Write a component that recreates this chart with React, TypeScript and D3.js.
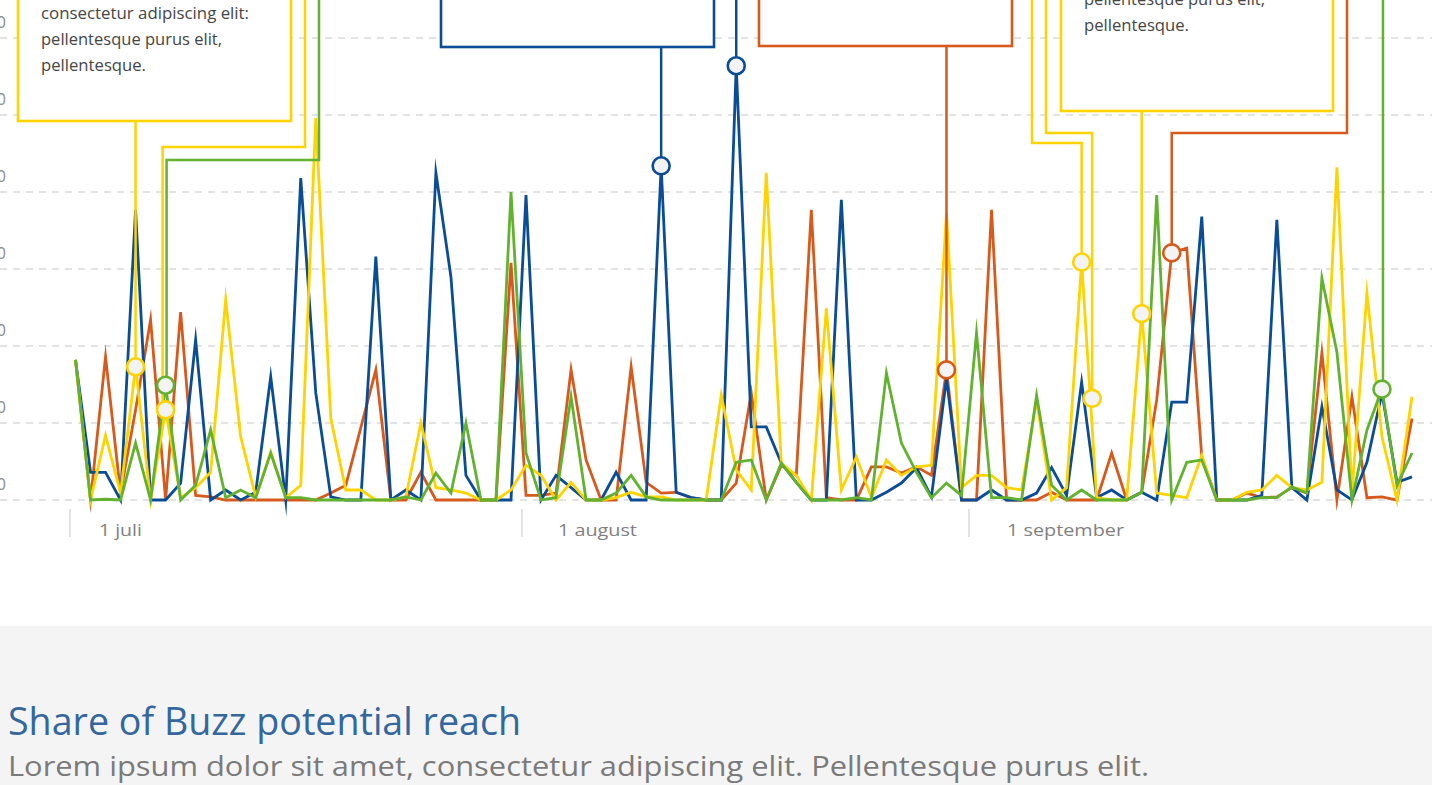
import React, { useEffect, useRef } from "react";
import * as d3 from "d3";

// daily values (one point per day)
const blue = [
  18.2, 3.6, 3.6, 0, 37.7, 0, 0, 2.2, 20.8, 0,
  1.3, 0, 1.0, 16.0, 0, 41.8, 13.9, 0.4, 0, 0,
  31.6, 0, 1.3, 0, 42.5, 29.0, 3.2, 0, 0, 0,
  39.6, 0, 3.2, 1.6, 0, 0, 3.6, 0, 0, 43.4,
  1.0, 0.3, 0, 0, 56.4, 9.5, 9.5, 4.8, 2.3, 0,
  0, 39.0, 0, 0, 1.0, 2.2, 4.2, 0.4, 15.8, 0,
  0, 1.3, 0, 0, 0.9, 4.2, 0.6, 15.3, 0.3, 1.3,
  0, 1.0, 0, 12.7, 12.7, 36.8, 0, 0, 0, 0.6,
  36.4, 1.6, 0, 12.1, 1.3, 0, 4.9, 13.9, 2.3, 3.0,
];
const orange = [
  18.2, 0, 18.6, 0.9, 11.7, 23.4, 0, 24.4, 0.6, 0.4,
  0, 0, 0, 0, 0, 0, 0, 0.9, 1.9, 9.4,
  16.9, 0, 0, 3.6, 0, 0, 0, 0, 0, 30.8,
  0.6, 0.6, 0.9, 16.9, 5.2, 0, 0, 17.3, 2.3, 0.9,
  1.0, 0.3, 0, 0, 2.2, 13.9, 0, 4.5, 3.2, 37.7,
  0.3, 0, 0, 4.3, 4.3, 3.5, 4.3, 3.2, 16.9, 0,
  0, 37.7, 0, 0, 0, 1.0, 0, 0, 0, 6.1,
  0, 1.0, 13.0, 32.1, 32.7, 5.6, 0, 0, 0.9, 0.3,
  0.4, 1.6, 0.9, 19.1, 0, 13.4, 0.3, 0.4, 0, 10.6,
];
const yellow = [
  18.2, 0, 8.4, 0.9, 17.3, 0, 11.7, 0.3, 1.6, 3.6,
  26.0, 8.2, 0.4, 6.2, 0.3, 1.9, 49.6, 10.6, 1.3, 1.3,
  0, 0, 0.4, 10.0, 1.6, 1.3, 0.9, 0, 0, 1.3,
  4.5, 3.2, 0, 2.3, 0, 0, 0.3, 1.0, 0.4, 0.4,
  0, 0, 0, 13.6, 3.9, 1.3, 42.5, 4.8, 3.2, 0,
  24.9, 1.3, 5.6, 0.3, 5.2, 3.2, 4.3, 4.5, 37.3, 1.6,
  3.2, 3.2, 1.6, 1.3, 13.0, 0, 1.6, 30.9, 0.3, 0,
  0, 24.2, 0.9, 0.6, 0.3, 5.8, 0, 0, 1.0, 1.3,
  3.2, 1.6, 1.3, 2.3, 43.2, 0.9, 26.9, 8.2, 0, 13.4,
];
const green = [
  18.2, 0, 0.1, 0, 7.4, 0, 14.9, 0, 1.9, 9.1,
  0.3, 1.3, 0.3, 6.1, 0.3, 0.3, 0, 0, 0, 0,
  0, 0, 0.4, 0, 3.5, 0.9, 10.0, 0, 0, 40.0,
  6.1, 0, 0.3, 13.4, 0, 0, 0.9, 3.2, 0.4, 0,
  0, 0, 0, 0, 4.9, 5.2, 0, 4.8, 2.3, 0,
  0, 0, 0.3, 0, 16.5, 7.4, 3.6, 0.3, 2.2, 0.6,
  21.7, 0.3, 0.3, 0, 13.6, 1.9, 0, 1.3, 0, 0,
  0, 1.0, 39.6, 0, 4.9, 5.2, 0, 0, 0, 0.3,
  0.3, 1.7, 0.9, 28.8, 19.2, 0, 9.1, 14.4, 1.9, 6.1,
];

const yTicks = [0, 10, 20, 30, 40, 50, 60];
const xTickPos = [-0.37, 29.73, 59.5];
const xTickLabels = ["1 juli", "1 august", "1 september"];

const COLORS: Record<string, string> = {
  blue: "#0a4c96",
  orange: "#d8591c",
  yellow: "#fdd300",
  green: "#62b22f",
};

const seriesList = [
  { name: "orange", values: orange },
  { name: "blue", values: blue },
  { name: "yellow", values: yellow },
  { name: "green", values: green },
];

// highlighted points (series, day index, value)
const markers = [
  { id: "g6", series: "green", index: 6, value: 14.9 },
  { id: "y4", series: "yellow", index: 4, value: 17.3 },
  { id: "y6", series: "yellow", index: 6, value: 11.7 },
  { id: "b39", series: "blue", index: 39, value: 43.4 },
  { id: "b44", series: "blue", index: 44, value: 56.4 },
  { id: "o58", series: "orange", index: 58, value: 16.9 },
  { id: "y67", series: "yellow", index: 67, value: 30.9 },
  { id: "y67b", series: "yellow", index: 67.7, value: 13.2 },
  { id: "y71", series: "yellow", index: 71, value: 24.2 },
  { id: "o73", series: "orange", index: 73, value: 32.1 },
  { id: "g87", series: "green", index: 87, value: 14.4 },
];

// note boxes (top parts fall outside the picture)
const boxes = [
  { color: "yellow", x0: 18, x1: 291, y1: 121, tx: 41, ty: 19,
    lines: ["Lorem ipsum dolor sit amet,", "consectetur adipiscing elit:", "pellentesque purus elit,", "pellentesque."], first: 1 },
  { color: "blue", x0: 441, x1: 714, y1: 47, tx: 0, ty: 0, lines: [], first: 0 },
  { color: "orange", x0: 759, x1: 1012, y1: 46, tx: 0, ty: 0, lines: [], first: 0 },
  { color: "yellow", x0: 1061, x1: 1333, y1: 111, tx: 1084, ty: 5,
    lines: ["Lorem ipsum dolor sit amet,", "consectetur adipiscing elit:", "pellentesque purus elit,", "pellentesque."], first: 2 },
];

// connector routes: null x means "the marker's x"
const connectors: { marker: string; route: [number | null, number][]; dx?: number }[] = [
  { marker: "y4", route: [[null, 121]] },
  { marker: "y6", route: [[305, -10], [305, 147], [null, 147]], dx: -3 },
  { marker: "g6", route: [[319, -10], [319, 160], [null, 160]], dx: 1 },
  { marker: "b39", route: [[null, 47]] },
  { marker: "b44", route: [[null, -10]] },
  { marker: "o58", route: [[null, 46]] },
  { marker: "o73", route: [[1347, -10], [1347, 133], [null, 133]] },
  { marker: "y67", route: [[1032, -10], [1032, 143], [null, 143]] },
  { marker: "y67b", route: [[1046, -10], [1046, 133], [null, 133]] },
  { marker: "y71", route: [[null, 111]] },
  { marker: "g87", route: [[null, -10]], dx: 1 },
];

const W = 1432;
const H = 785;
const FONT = "'Open Sans', 'Noto Sans', sans-serif";

const App: React.FC = () => {
  const ref = useRef<SVGSVGElement | null>(null);

  useEffect(() => {
    const svg = d3.select(ref.current);
    svg.selectAll("*").remove();

    const x = d3.scaleLinear().domain([0, 89]).range([75.5, 1412]);
    const y = d3.scaleLinear().domain([0, 60]).range([500, 38]);

    svg.append("rect").attr("width", W).attr("height", H).attr("fill", "#ffffff");

    // grid
    const grid = svg.append("g");
    yTicks.forEach((t) => {
      grid.append("line")
        .attr("x1", 0).attr("x2", W)
        .attr("y1", y(t)).attr("y2", y(t))
        .attr("stroke", "#dadada")
        .attr("stroke-width", 1.5)
        .attr("stroke-dasharray", "7 6");
      grid.append("text")
        .attr("x", 6).attr("y", y(t) - 10)
        .attr("text-anchor", "end")
        .attr("font-family", FONT)
        .attr("font-size", 16)
        .attr("fill", "#8a8a8a")
        .text(String(t));
    });

    // x ticks
    const labelOffsets = [29, 36, 38];
    const labelWidths = [43, 79, 117];
    xTickPos.forEach((p, i) => {
      svg.append("line")
        .attr("x1", x(p)).attr("x2", x(p))
        .attr("y1", 509).attr("y2", 537)
        .attr("stroke", "#cfcfcf")
        .attr("stroke-width", 1.2);
      svg.append("text")
        .attr("x", x(p) + labelOffsets[i])
        .attr("y", 536)
        .attr("font-family", FONT)
        .attr("font-size", 15.5)
        .attr("fill", "#7f7f7f")
        .attr("textLength", labelWidths[i])
        .attr("lengthAdjust", "spacingAndGlyphs")
        .text(xTickLabels[i]);
    });

    // boxes
    boxes.forEach((b) => {
      svg.append("rect")
        .attr("x", b.x0).attr("y", -60)
        .attr("width", b.x1 - b.x0)
        .attr("height", b.y1 + 60)
        .attr("fill", "#ffffff")
        .attr("stroke", COLORS[b.color])
        .attr("stroke-width", 2.6);
      const lw = [0, 208, 181, 105];
      b.lines.forEach((ln, k) => {
        svg.append("text")
          .attr("x", b.tx)
          .attr("y", b.ty + (k - b.first) * 26)
          .attr("font-family", FONT)
          .attr("font-size", 15.5)
          .attr("fill", "#454545")
          .attr("textLength", lw[k] || 200)
          .attr("lengthAdjust", "spacingAndGlyphs")
          .text(ln);
      });
    });

    // series lines
    const line = d3.line<number>()
      .x((_, i) => x(i))
      .y((d) => y(d));

    seriesList.forEach((s) => {
      svg.append("path")
        .datum(s.values)
        .attr("fill", "none")
        .attr("stroke", COLORS[s.name])
        .attr("stroke-width", 2.8)
        .attr("stroke-linejoin", "miter")
        .attr("stroke-miterlimit", 12)
        .attr("d", line);
    });

    // connectors
    const byId: Record<string, (typeof markers)[number]> = {};
    markers.forEach((m) => (byId[m.id] = m));
    connectors.forEach((c) => {
      const m = byId[c.marker];
      const mx = x(m.index) + (c.dx || 0);
      const my = y(m.value);
      const pts: [number, number][] = c.route.map(([px, py]) => [px === null ? mx : px, py]);
      pts.push([mx, my]);
      svg.append("path")
        .attr("d", d3.line()(pts))
        .attr("fill", "none")
        .attr("stroke", COLORS[m.series])
        .attr("stroke-width", 2.5);
    });

    // markers
    markers.forEach((m) => {
      svg.append("circle")
        .attr("cx", x(m.index))
        .attr("cy", y(m.value))
        .attr("r", 8.5)
        .attr("fill", "#f3f3f3")
        .attr("stroke", COLORS[m.series])
        .attr("stroke-width", 2.6);
    });

    // footer panel
    svg.append("rect")
      .attr("x", 0).attr("y", 626)
      .attr("width", W).attr("height", H - 626)
      .attr("fill", "#f4f4f4");
    svg.append("text")
      .attr("x", 8).attr("y", 735)
      .attr("font-family", FONT)
      .attr("font-size", 38)
      .attr("fill", "#33679d")
      .attr("textLength", 513)
      .attr("lengthAdjust", "spacingAndGlyphs")
      .text("Share of Buzz potential reach");
    svg.append("text")
      .attr("x", 8).attr("y", 776)
      .attr("font-family", FONT)
      .attr("font-size", 28)
      .attr("fill", "#7a7a7a")
      .attr("textLength", 1141)
      .attr("lengthAdjust", "spacingAndGlyphs")
      .text("Lorem ipsum dolor sit amet, consectetur adipiscing elit. Pellentesque purus elit.");
  }, []);

  return (
    <div style={{ position: "absolute", left: 0, top: 0, width: W, height: H, overflow: "hidden" }}>
      <svg ref={ref} width={W} height={H} style={{ display: "block" }}></svg>
    </div>
  );
};

export default App;
